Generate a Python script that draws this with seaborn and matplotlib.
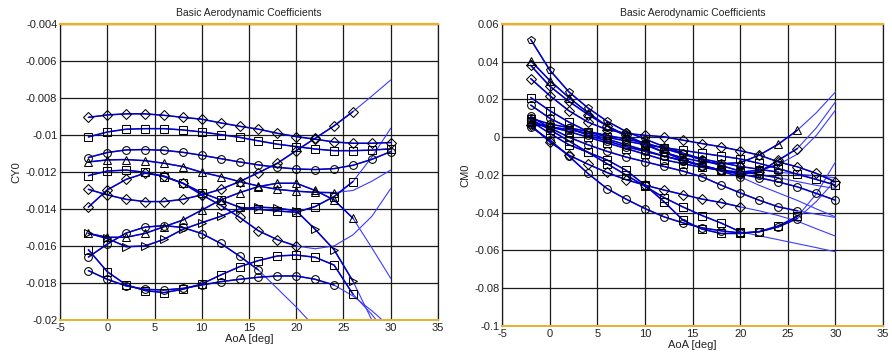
import matplotlib
matplotlib.use("Agg")
import matplotlib.pyplot as plt
import seaborn as sns
import pandas as pd
import numpy as np

# ---------------- data ----------------
aoa = [-2, 0, 2, 4, 6, 8, 10, 12, 14, 16, 18, 20, 22, 24, 26, 28, 30]

# CY0 curves (values x 1e-3); n = number of measured points (rest = extrapolated fit)
cy_d1 = [-9.05, -8.92, -8.86, -8.86, -8.94, -9.05, -9.15, -9.35, -9.53, -9.69, -9.91, -10.09, -10.23, -10.38, -10.45, -10.45, -10.41]
cy_s1 = [-10.11, -9.84, -9.69, -9.66, -9.66, -9.73, -9.84, -9.98, -10.13, -10.32, -10.5, -10.63, -10.76, -10.85, -10.85, -10.82, -10.75]
cy_o1 = [-11.22, -10.95, -10.81, -10.79, -10.83, -10.94, -11.1, -11.28, -11.46, -11.62, -11.75, -11.84, -11.87, -11.82, -11.64, -11.32, -10.9]
cy_t1 = [-11.46, -11.35, -11.33, -11.39, -11.53, -11.71, -12.02, -12.25, -12.52, -12.76, -12.94, -13.04, -13.1, -13.12, -13.0, -12.5, -11.9]
cy_s2 = [-12.2, -11.95, -11.9, -12.02, -12.25, -12.61, -13.12, -13.51, -13.91, -14.02, -14.11, -14.18, -13.87, -13.33, -12.52, -11.2, -9.64]
cy_d2 = [-12.94, -13.24, -13.48, -13.6, -13.6, -13.48, -13.24, -12.94, -12.52, -12.04, -11.53, -10.85, -10.18, -9.51, -8.74, -7.9, -7.03]
cy_d3 = [-13.9, -12.97, -12.4, -12.07, -12.22, -12.61, -13.24, -13.8, -14.45, -15.18, -15.66, -16.0, -16.15, -16.0, -15.4, -14.4, -12.9]
cy_t2 = [-15.32, -15.53, -15.53, -15.32, -14.96, -14.6, -14.06, -13.51, -13.12, -12.79, -12.61, -12.61, -13.0, -13.51, -14.5, -16.1, -17.75]
cy_r1 = [-15.32, -15.59, -16.04, -16.0, -15.64, -15.1, -14.74, -14.4, -14.0, -13.9, -13.95, -14.1, -15.1, -16.2, -17.9, -20.0, -22.0]
cy_o2 = [-16.6, -15.9, -15.3, -14.98, -14.9, -15.0, -15.33, -15.86, -16.55, -17.3, -18.3, -19.3, -20.4, -21.5, -22.6, -23.7, -24.8]
cy_s3 = [-16.2, -17.39, -18.1, -18.41, -18.52, -18.34, -18.05, -17.57, -17.12, -16.79, -16.54, -16.49, -16.61, -17.03, -18.6, -19.7, -21.0]
cy_o3 = [-17.33, -17.8, -18.16, -18.34, -18.38, -18.29, -18.11, -17.93, -17.8, -17.69, -17.62, -17.62, -17.8, -18.11, -18.7, -19.5, -20.4]

cy_curves = [("d1", cy_d1, "D", 17), ("s1", cy_s1, "s", 17), ("o1", cy_o1, "o", 17),
             ("t1", cy_t1, "^", 14), ("s2", cy_s2, "s", 15), ("d2", cy_d2, "D", 15),
             ("d3", cy_d3, "D", 12), ("t2", cy_t2, "^", 15), ("r1", cy_r1, ">", 15),
             ("o2", cy_o2, "o", 10), ("s3", cy_s3, "s", 15), ("o3", cy_o3, "o", 14)]

# CM0 curves (values x 1e-3)
cm_p1 = [51.7, 35.5, 24, 15.5, 8.5, 3, -1, -5, -8.5, -11.5, -13.5, -15.5, -17, -18.5, -19.5, -20.5, -21.5]
cm_t1 = [40.5, 30, 21, 13, 6, 0.5, -4, -8, -11, -13, -14, -13.5, -9.5, -3.7, 3.7, 13, 24]
cm_d1 = [38, 27, 19, 12, 6, 1, -3.5, -8, -12, -15, -17.5, -19.5, -18.4, -12.2, -6, 5, 18.7]
cm_d2 = [31, 22, 14, 8, 4, 2, 1, 0.2, -1.6, -3.4, -5.1, -7.2, -9.5, -13.1, -15.7, -19.2, -23.7]
cm_s1 = [21, 14, 8, 3, 0, -2, -4, -5.5, -7, -8.5, -10, -11.5, -13.9, -16.6, -19.6, -22.4, -25.4]
cm_o1 = [17, 10, 5, 1, -2, -5, -7.5, -10, -12.5, -15, -17.5, -19.5, -21.5, -23.7, -26.3, -29.8, -33.4]
cm_o2 = [11, 5, 0, -4, -7.5, -10.5, -13, -15.5, -18, -21, -25.4, -29.5, -33.4, -36.9, -39, -40.8, -42.5]
cm_d3 = [6.4, -2.5, -9.5, -14.3, -18.7, -22.5, -25.4, -28, -30.4, -32.8, -34.6, -36.9, -39, -41.5, -44.5, -48.5, -52.4]
cm_o3 = [5.5, -1.5, -10, -19.2, -27.2, -32.8, -37.8, -42.2, -45.4, -48, -49.6, -50.7, -50.1, -47.5, -43.1, -34, -22.8]
cm_s2 = [8.5, 2, -4, -8, -12, -17.5, -25.4, -34.2, -44, -48.7, -51, -51, -50, -47, -42, -30, -13.1]
cm_s3 = [9.5, 4, -2, -8, -14, -20, -26, -32, -37, -41.5, -45.5, -50.1, -52.2, -54.3, -56.4, -58.5, -60.7]
cm_s4 = [8, 5.5, 3, 0, -3, -6, -9, -12, -14, -16, -17.5, -18.5, -17.5, -14.5, -9, 1, 14.3]
cm_o4 = [7, 5.5, 4, 2, -1, -4, -7, -10, -12.5, -15, -18, -21, -25.5, -29.5, -33.5, -38, -42.2]
cm_o5 = [10, 7, 5, 3, 1, -1, -3, -6, -9, -12, -15, -18, -19.8, -21.5, -23.5, -25.5, -27.2]

cm_curves = [("p1", cm_p1, "p", 14), ("t1", cm_t1, "^", 15), ("d1", cm_d1, "D", 15),
             ("d2", cm_d2, "D", 17), ("s1", cm_s1, "s", 17), ("o1", cm_o1, "o", 17),
             ("o2", cm_o2, "o", 15), ("d3", cm_d3, "D", 12), ("o3", cm_o3, "o", 15),
             ("s2", cm_s2, "s", 15), ("s3", cm_s3, "s", 12), ("s4", cm_s4, "s", 14),
             ("o4", cm_o4, "o", 12), ("o5", cm_o5, "o", 14)]

cy_ticks = [-0.004, -0.006, -0.008, -0.01, -0.012, -0.014, -0.016, -0.018, -0.02]
cy_labels = ["-0.004", "-0.006", "-0.008", "-0.01", "-0.012", "-0.014", "-0.016", "-0.018", "-0.02"]
cm_ticks = [0.06, 0.04, 0.02, 0, -0.02, -0.04, -0.06, -0.08, -0.1]
cm_labels = ["0.06", "0.04", "0.02", "0", "-0.02", "-0.04", "-0.06", "-0.08", "-0.1"]
x_ticks = [-5, 0, 5, 10, 15, 20, 25, 30, 35]

# ---------------- style ----------------
sns.set_theme(style="white")
plt.rcParams["font.family"] = ["Liberation Sans", "DejaVu Sans"]
plt.rcParams["font.size"] = 7.5

fig = plt.figure(figsize=(8.92, 3.62), dpi=100)
ax1 = fig.add_axes([0.0673, 0.116, 0.4237, 0.818])
ax2 = fig.add_axes([0.563, 0.0994, 0.427, 0.8346])

LINE_THIN = "#3c3cff"
LINE_DATA = "#0000c8"


def draw(ax, curves, scale):
    for name, vals, mk, n in curves:
        df = pd.DataFrame({"aoa": aoa, "val": np.array(vals) * scale})
        sns.lineplot(data=df, x="aoa", y="val", ax=ax, color=LINE_THIN, lw=0.8,
                     estimator=None, sort=False, zorder=2)
        dd = df.iloc[:n]
        sns.lineplot(data=dd, x="aoa", y="val", ax=ax, color=LINE_DATA, lw=1.1,
                     estimator=None, sort=False, zorder=3)
        sns.lineplot(data=dd, x="aoa", y="val", ax=ax, linestyle="none", marker=mk,
                     markersize=5.6 if mk != "D" else 4.8, markerfacecolor="none",
                     markeredgecolor="black", markeredgewidth=0.75,
                     estimator=None, sort=False, zorder=4)


draw(ax1, cy_curves, 1e-3)
draw(ax2, cm_curves, 1e-3)

for ax, ylim, ticks, labels, ylab in [
        (ax1, (-0.02, -0.004), cy_ticks, cy_labels, "CY0"),
        (ax2, (-0.1, 0.06), cm_ticks, cm_labels, "CM0")]:
    ax.set_xlim(-5, 35)
    ax.set_ylim(*ylim)
    ax.set_xticks(x_ticks)
    ax.set_xticklabels([str(t) for t in x_ticks])
    ax.set_yticks(ticks)
    ax.set_yticklabels(labels)
    ax.grid(True, color="#1a1a1a", lw=0.9, ls="-")
    ax.set_axisbelow(True)
    ax.tick_params(axis="both", labelsize=8, colors="#222222", length=0, pad=2)
    ax.set_xlabel("AoA [deg]", fontsize=8, color="#222222", labelpad=1)
    ax.set_ylabel(ylab, fontsize=8, color="#222222", labelpad=3)
    ax.set_title("Basic Aerodynamic Coefficients", fontsize=7.5, color="#222222", pad=6)
    for s in ["left", "right"]:
        ax.spines[s].set_color("#1a1a1a")
        ax.spines[s].set_linewidth(0.9)
    ax.spines["top"].set_color("#f0b020")
    ax.spines["top"].set_linewidth(1.6)
    ax.spines["bottom"].set_color("#e8b030")
    ax.spines["bottom"].set_linewidth(1.4)
    ax.spines["bottom"].set_zorder(5)

fig.savefig("out.png", dpi=100)
